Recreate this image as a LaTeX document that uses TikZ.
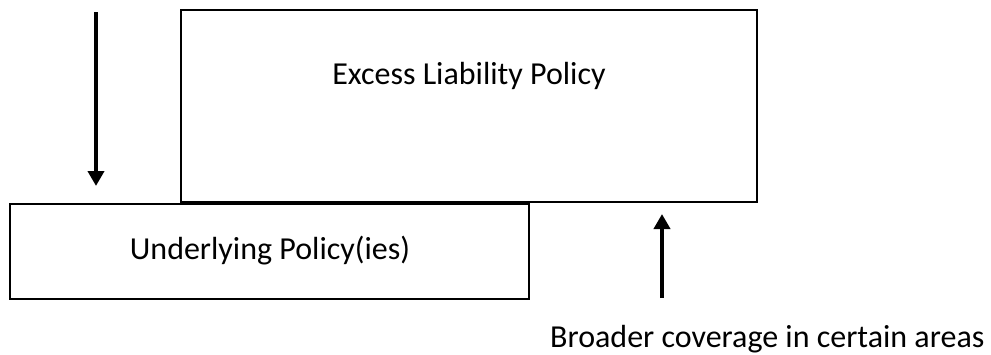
\documentclass[tikz,border=0pt]{standalone}
\usepackage{fontspec}
\setmainfont{Carlito}
\usetikzlibrary{arrows.meta}
\begin{document}
\begin{tikzpicture}[x=1pt,y=-1pt,
  policybox/.style={draw=black,line width=1.8pt},
  label/.style={font=\fontsize{32}{36}\selectfont,inner sep=0pt},
  bigarrow/.style={line width=4pt,-{Triangle[length=15pt,width=16pt]}}]
\useasboundingbox (0,0) rectangle (991,354);
\draw[policybox] (181,10) rectangle (757,202);
\coordinate (exNW) at (181,10);
\coordinate (exSE) at (757,202);
\node[label] (excess) at (469,76) {Excess Liability Policy};
\draw[policybox] (10,204) rectangle (529,299);
\node[label] (under) at (270,251) {Underlying Policy(ies)};
\node[label,anchor=base west] (broader) at (550,347) {Broader coverage in certain areas};
\coordinate (d1) at (96,12);
\coordinate (d2) at (96,186);
\coordinate (u1) at (662,298);
\coordinate (u2) at (662,214);
\draw[bigarrow] (d1) -- (d2);
\draw[bigarrow] (u1) -- (u2);
\end{tikzpicture}
\end{document}
